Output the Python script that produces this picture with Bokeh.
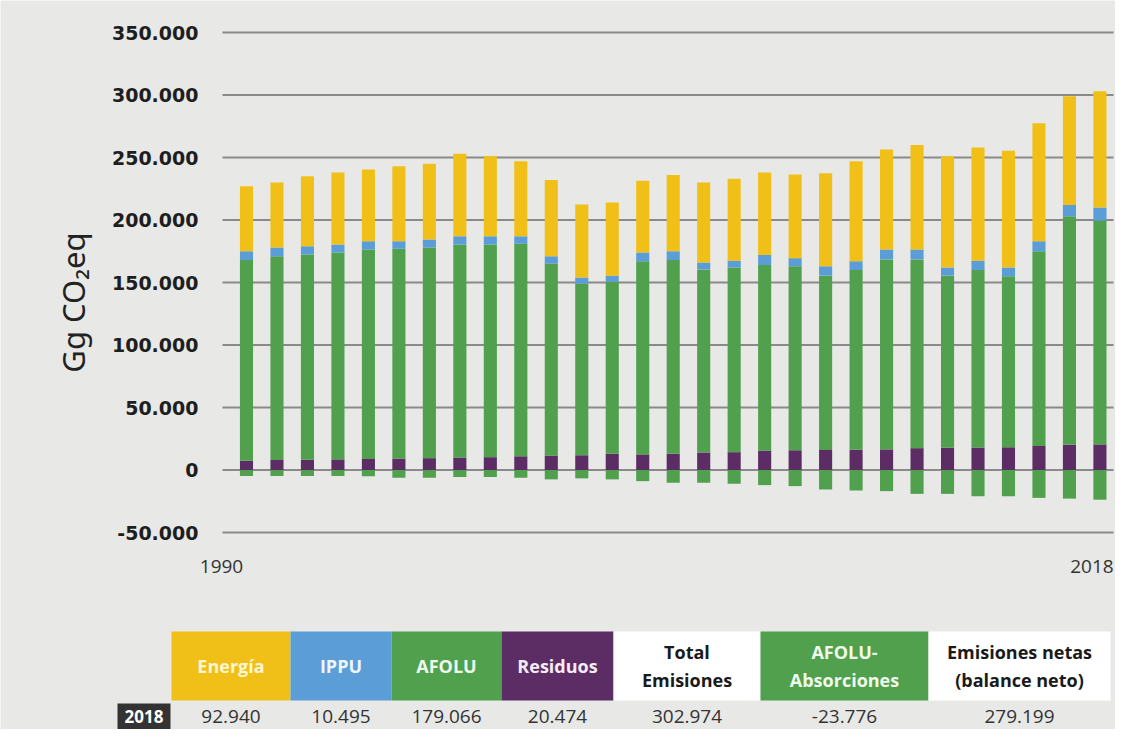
import math
from bokeh.plotting import figure
from bokeh.models import ColumnDataSource, Range1d
from bokeh.embed import file_html
from bokeh.resources import INLINE
from bokeh.core.properties import value

# ---------------- data ----------------
years = list(range(1990, 2019))
energia = [52000, 52000, 56000, 57500, 57500, 60000, 60500, 66000, 64000, 60000,
           61000, 58500, 58500, 57500, 61000, 64000, 65500, 66000, 67000, 74500,
           80000, 80000, 83500, 89000, 90500, 93500, 94500, 87000, 92940]
ippu = [7000, 7000, 6500, 6500, 6500, 6000, 6500, 6500, 6500, 6000,
        6000, 5000, 5000, 7000, 7000, 5500, 5500, 8000, 6500, 7500,
        7000, 8000, 8000, 6500, 7500, 7000, 8000, 9000, 10495]
afolu = [160500, 163000, 164300, 165500, 167700, 167800, 168500, 170500, 170200, 170000,
         153500, 137200, 137500, 154500, 155000, 146500, 147700, 148500, 147200, 139500,
         143800, 152000, 151000, 137700, 142000, 136800, 155700, 182800, 179066]
residuos = [7500, 8000, 8200, 8500, 8800, 9200, 9500, 10000, 10300, 11000,
            11500, 11800, 13000, 12500, 13000, 14000, 14300, 15500, 15800, 16000,
            16200, 16500, 17500, 17800, 18000, 18200, 19300, 20200, 20474]
absorciones = [-4800, -4800, -4800, -4800, -5000, -6200, -6200, -5600, -5600, -6200,
               -7500, -6700, -7500, -8900, -10200, -10200, -11000, -12100, -12900, -15600,
               -16400, -16900, -19100, -19100, -21000, -21000, -22300, -22900, -23776]
y_ticks = [-50000, 0, 50000, 100000, 150000, 200000, 250000, 300000, 350000]
y_title = "Gg CO₂eq"

table_headers = ["Energía", "IPPU", "AFOLU", "Residuos", "Total\nEmisiones",
                 "AFOLU-\nAbsorciones", "Emisiones netas\n(balance neto)"]
table_values = [92940, 10495, 179066, 20474, 302974, -23776, 279199]
table_year = str(years[-1])


def fmt(v):
    s = f"{abs(int(v)):,}".replace(",", ".")
    return ("-" if v < 0 else "") + s


# ---------------- layout / style ----------------
BG = "#e8e9e7"
C_ENE = "#f0c019"
C_IPPU = "#5b9dd6"
C_AFOLU = "#50a04e"
C_RES = "#5c2c64"
W, H = 1115, 729

# data ranges chosen so that the whole canvas is the frame
p = figure(width=W, height=H, x_range=Range1d(1981.929, 2018.511),
           y_range=Range1d(-207600, 375600), output_backend="svg", toolbar_location=None,
           min_border=0, x_axis_type=None, y_axis_type=None)
p.extra_x_ranges = {"px": Range1d(0, W)}
p.extra_y_ranges = {"py": Range1d(H, 0)}
p.grid.visible = False
p.outline_line_color = None
p.background_fill_color = BG
p.border_fill_color = BG

# gridlines at the y ticks
GRID_L, GRID_R = 222, 1113
p.segment(x0=[GRID_L] * len(y_ticks), x1=[GRID_R] * len(y_ticks), y0=y_ticks, y1=y_ticks,
          x_range_name="px", line_color="#8a8a8a", line_width=2)

# tick labels
p.text(x=[198] * len(y_ticks), y=y_ticks, text=[fmt(v) for v in y_ticks], x_range_name="px",
       text_align="right", text_baseline="middle", text_font=value("DejaVu Sans"),
       text_font_style="bold", text_font_size="19px", text_color="#1e1e1e")

# axis title
p.text(x=[72], y=[302], text=[y_title], x_range_name="px", y_range_name="py",
       angle=math.pi / 2, text_align="center", text_baseline="middle",
       text_font=value("Noto Sans"), text_font_size="31px", text_color="#222222")

# bars
src = ColumnDataSource(dict(year=years, Residuos=residuos, AFOLU=afolu, IPPU=ippu,
                            Energia=energia, Abs=absorciones))
p.vbar_stack(["Residuos", "AFOLU", "IPPU", "Energia"], x="year", width=0.43,
             fill_color=[C_RES, C_AFOLU, C_IPPU, C_ENE], line_color=None, source=src)
p.vbar(x="year", top=0, bottom="Abs", width=0.43, fill_color=C_AFOLU, line_color=None,
       source=src)

# x labels (first and last year)
p.text(x=[years[0], years[-1]], y=[-77200, -77200], x_offset=[-25, -8],
       text=[str(years[0]), str(years[-1])], text_align="center", text_baseline="middle",
       text_font=value("Open Sans"), text_font_size="19px", text_color="#333333")

# ---------------- table (pixel coordinates) ----------------
edges = [171, 290, 391, 501, 613, 760, 928, 1110]
head_top, head_bot = 631, 700
cell_fill = [C_ENE, C_IPPU, C_AFOLU, C_RES, "white", C_AFOLU, "white"]
head_color = ["#fff6d2", "#eef5ff", "#effaec", "#f4ecf6", "#1a1a1a", "#effaec", "#1a1a1a"]
left = edges[:-1]
right = edges[1:]
centers = [(a + b) / 2 for a, b in zip(left, right)]
n = len(table_headers)
p.quad(left=left, right=right, top=[head_top] * n, bottom=[head_bot] * n,
       fill_color=cell_fill, line_color=None, x_range_name="px", y_range_name="py")
p.text(x=centers, y=[(head_top + head_bot) / 2] * n, text=table_headers,
       text_color=head_color, text_align="center", text_baseline="middle",
       text_font=value("Open Sans"), text_font_style="bold", text_font_size="18px",
       text_line_height=1.15, x_range_name="px", y_range_name="py")

ROW_Y = 716
p.quad(left=[117], right=[170], top=[703], bottom=[H + 10], fill_color="#333333",
       line_color=None, x_range_name="px", y_range_name="py")
p.text(x=[143.5], y=[ROW_Y], text=[table_year], text_color="white", text_align="center",
       text_baseline="middle", text_font=value("Open Sans"), text_font_style="bold",
       text_font_size="17px", x_range_name="px", y_range_name="py")
p.text(x=centers, y=[ROW_Y] * n, text=[fmt(v) for v in table_values], text_color="#333333",
       text_align="center", text_baseline="middle", text_font=value("Open Sans"),
       text_font_size="19px", x_range_name="px", y_range_name="py")

open("out.html", "w").write(file_html(p, INLINE))
